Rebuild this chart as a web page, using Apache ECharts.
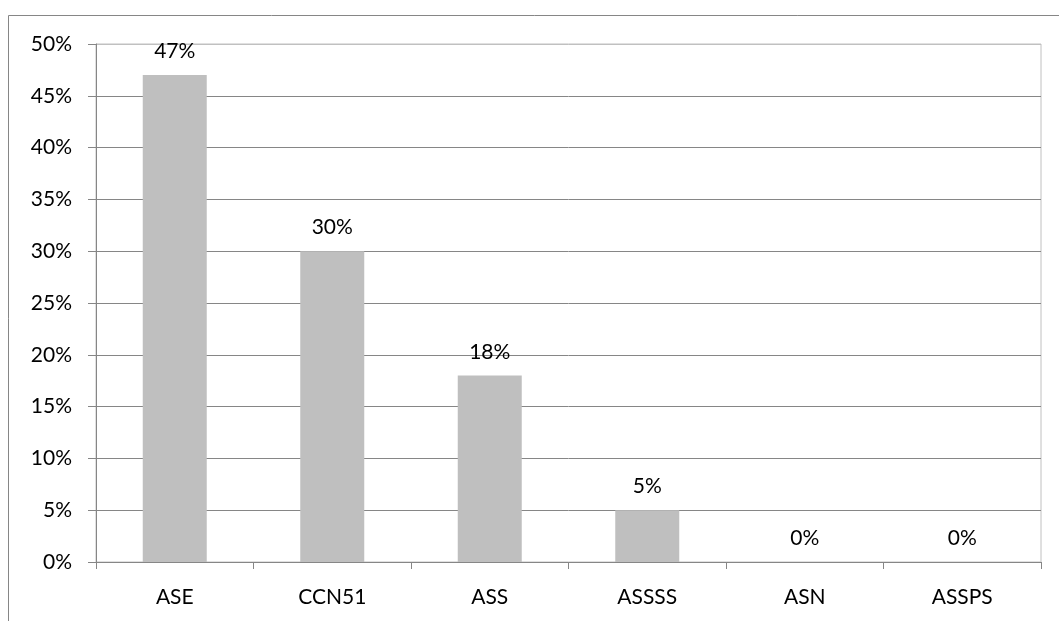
<!DOCTYPE html>
<html>
<head>
<meta charset="utf-8">
<script src="https://cdn.jsdelivr.net/npm/echarts@6/dist/echarts.min.js"></script>
<style>
  html, body { margin: 0; padding: 0; background: #fff; }
  #chart { width: 1059px; height: 621px; }
</style>
</head>
<body>
<div id="chart"></div>
<script>
// categories and values (percent)
var categories = ['ASE', 'CCN51', 'ASS', 'ASSSS', 'ASN', 'ASSPS'];
var values = [47, 30, 18, 5, 0, 0];
var yTicks = [0, 5, 10, 15, 20, 25, 30, 35, 40, 45, 50];

var myChart = echarts.init(document.getElementById('chart'));

// gridline colours: last (top) line is lighter, like the plot border
var gridColors = yTicks.map(function (t, i) {
  return i === yTicks.length - 1 ? '#c0c0c0' : '#868686';
});

var option = {
  animation: false,
  textStyle: { fontFamily: 'Lato, sans-serif' },
  graphic: [{
    type: 'rect',
    shape: { x: 8.5, y: 15.5, width: 1200, height: 800 },
    style: { fill: 'none', stroke: '#868686', lineWidth: 1 },
    silent: true
  }],
  grid: {
    left: 96, right: 18, top: 44, bottom: 59,
    show: true,
    borderColor: '#c0c0c0',
    borderWidth: 1
  },
  xAxis: {
    type: 'category',
    data: categories,
    axisLine: { lineStyle: { color: '#868686', width: 1 } },
    axisTick: { show: true, length: 7, lineStyle: { color: '#868686' } },
    axisLabel: { color: '#000', fontSize: 21, margin: 25 }
  },
  yAxis: {
    type: 'value',
    min: 0,
    max: 50,
    interval: 5,
    axisLine: { show: true, lineStyle: { color: '#868686', width: 1 } },
    axisTick: { show: true, length: 8, lineStyle: { color: '#868686' } },
    axisLabel: {
      color: '#000', fontSize: 21, margin: 24,
      formatter: function (v) { return v + '%'; }
    },
    splitLine: { show: true, lineStyle: { color: gridColors, width: 1 } }
  },
  series: [{
    type: 'bar',
    data: values,
    barWidth: 64,
    itemStyle: { color: '#bfbfbf' },
    label: {
      show: true,
      position: 'top',
      distance: 13,
      color: '#000',
      fontSize: 21,
      fontFamily: 'Lato, sans-serif',
      formatter: function (p) { return p.value + '%'; }
    }
  }]
};

myChart.setOption(option);
</script>
</body>
</html>
